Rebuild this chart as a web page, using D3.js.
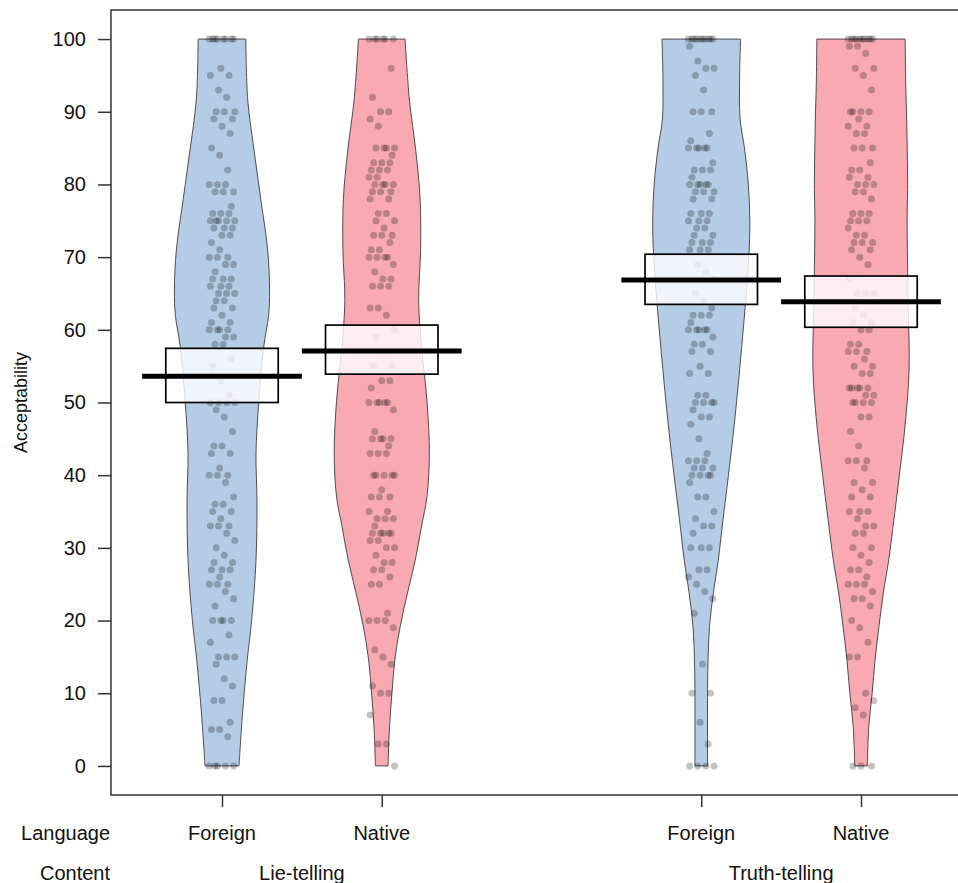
<!DOCTYPE html>
<html>
<head>
<meta charset="utf-8">
<script src="https://cdn.jsdelivr.net/npm/d3@7"></script>
<style>
  body { margin: 0; background: #fff; }
  svg { display: block; }
  text { font-family: "Liberation Sans", Arial, Helvetica, sans-serif; fill: #111; }
</style>
</head>
<body>
<div id="chart"></div>
<script>
// Groups (Language within Content)
const languages = ["Foreign", "Native", "Foreign", "Native"];
const contents = ["Lie-telling", "Truth-telling"];
const positions = [1, 2, 4, 5];
const yTicks = [0, 10, 20, 30, 40, 50, 60, 70, 80, 90, 100];

// Means and 95% CI bounds
const means = [53.6, 57.1, 66.85, 63.85];
const ciLow = [50.0, 53.9, 63.5, 60.35];
const ciHigh = [57.45, 60.65, 70.4, 67.4];

// Bean densities: [value, relative density]
const densLieForeign = [[100, 0.49], [91.6, 0.53], [84.7, 0.66], [77.9, 0.80], [71, 0.94], [65.5, 0.98], [62, 0.96], [57.7, 0.86], [50.3, 0.76], [43, 0.70], [36.6, 0.72], [28.3, 0.70], [20, 0.61], [14.6, 0.52], [7, 0.42], [0, 0.35]];
const densLieNative = [[100, 0.48], [91.6, 0.57], [84.7, 0.70], [78, 0.79], [71, 0.80], [64, 0.76], [57.7, 0.82], [50.3, 0.93], [43, 0.98], [37, 0.93], [33, 0.82], [28.3, 0.69], [23.8, 0.53], [19.2, 0.38], [14.6, 0.27], [10, 0.21], [5.4, 0.16], [0, 0.13]];
const densTruthForeign = [[100, 0.81], [95, 0.79], [89, 0.80], [85, 0.89], [80, 0.97], [75, 1.0], [70, 0.98], [63.6, 0.91], [54.5, 0.79], [47, 0.68], [40, 0.56], [34, 0.45], [28.3, 0.35], [23.8, 0.25], [19.2, 0.17], [14.6, 0.14], [10, 0.13], [0, 0.13]];
const densTruthNative = [[100, 0.91], [94, 0.92], [89, 0.94], [80, 0.96], [75, 0.95], [64, 0.97], [54.5, 0.99], [47, 0.91], [40, 0.79], [34, 0.68], [28.3, 0.57], [23.8, 0.46], [19.2, 0.37], [14.6, 0.29], [10, 0.23], [5.4, 0.16], [0, 0.13]];
const densities = [densLieForeign, densLieNative, densTruthForeign, densTruthNative];

// Individual ratings: [value, how many]
const ptsLieForeign = [[100,8],[96,1],[95,2],[93,1],[92,1],[90,3],[89,2],[88,1],[87,1],[85,1],[84,1],[82,1],[80,3],[79,3],[77,1],[76,3],[75,5],[74,3],[73,2],[72,1],[71,1],[70,3],[69,2],[68,1],[67,3],[66,3],[65,3],[64,2],[63,2],[62,1],[61,2],[60,4],[59,2],[58,2],[56,1],[55,1],[53,1],[51,1],[50,4],[49,1],[48,1],[46,1],[44,2],[43,2],[41,1],[40,3],[39,1],[37,1],[36,2],[35,2],[34,1],[33,3],[32,1],[31,1],[30,1],[29,1],[28,2],[27,3],[26,1],[25,3],[24,1],[23,1],[22,1],[20,4],[18,1],[17,1],[15,3],[14,1],[12,1],[11,1],[9,2],[6,1],[5,2],[4,1],[0,5]];
const ptsLieNative = [[100,6],[96,1],[92,1],[90,2],[89,1],[88,1],[85,4],[84,1],[83,3],[82,3],[81,2],[80,4],[79,3],[78,2],[76,2],[75,2],[74,1],[73,3],[72,1],[71,2],[70,4],[69,1],[68,1],[67,2],[66,3],[63,2],[62,1],[60,1],[59,1],[57,1],[55,2],[53,2],[52,1],[50,5],[49,1],[46,1],[45,4],[44,1],[43,3],[40,5],[38,1],[37,3],[35,2],[34,3],[33,1],[32,5],[31,2],[30,2],[29,1],[28,2],[27,2],[26,1],[25,2],[21,1],[20,3],[19,1],[16,1],[15,1],[14,1],[11,1],[10,2],[7,1],[3,2],[0,1]];
const ptsTruthForeign = [[100,10],[99,1],[97,1],[96,2],[95,1],[93,1],[90,3],[87,1],[86,1],[85,5],[83,1],[82,3],[81,1],[80,5],[79,3],[78,2],[76,3],[75,3],[74,2],[73,2],[72,3],[71,3],[69,1],[68,1],[67,1],[65,1],[64,1],[63,1],[62,3],[61,1],[60,5],[59,1],[58,2],[57,2],[55,1],[54,2],[51,2],[50,4],[49,1],[48,2],[47,1],[45,1],[43,1],[42,3],[41,3],[40,4],[39,1],[37,2],[35,1],[34,1],[33,2],[32,1],[30,3],[27,2],[26,1],[25,1],[24,1],[23,1],[21,1],[14,1],[10,2],[6,1],[3,1],[0,4]];
const ptsTruthNative = [[100,10],[99,2],[98,1],[96,2],[95,1],[93,1],[90,4],[89,1],[88,2],[87,2],[85,3],[83,1],[82,2],[81,2],[80,3],[79,2],[78,1],[76,3],[75,3],[74,1],[73,2],[72,3],[71,2],[70,1],[69,1],[67,1],[65,3],[63,1],[62,1],[61,2],[60,2],[58,2],[57,3],[56,1],[55,2],[54,2],[52,5],[51,2],[50,4],[48,2],[46,1],[44,1],[42,3],[41,1],[39,2],[38,1],[37,2],[35,3],[34,1],[33,2],[32,2],[30,2],[29,1],[28,1],[27,2],[26,1],[25,3],[24,1],[23,2],[22,1],[20,1],[19,1],[17,1],[15,2],[10,1],[9,1],[8,1],[7,1],[0,3]];
const points = [ptsLieForeign, ptsLieNative, ptsTruthForeign, ptsTruthNative];

const fills = ["#b5cce7", "#f8a9b2", "#b5cce7", "#f8a9b2"];

const W = 958, H = 883;

const svg = d3.select("#chart")
  .append("svg")
  .attr("width", W)
  .attr("height", H);

// Scales
const x = d3.scaleLinear().domain([1, 5]).range([222, 861]);
const y = d3.scaleLinear().domain([-4, 104]).range([795, 10]);

const beanMax = 0.304;   // half width of the widest bean, in x units
const boxHalf = 0.352;   // CI box half width
const lineHalf = 0.5;    // mean line half width
const jitterHalf = 0.08;

// Beans
const area = (pos) => d3.area()
  .curve(d3.curveCatmullRom)
  .y(d => y(d[0]))
  .x0(d => x(pos - d[1] * beanMax))
  .x1(d => x(pos + d[1] * beanMax));

svg.append("g")
  .selectAll("path")
  .data(densities)
  .join("path")
  .attr("d", (d, i) => area(positions[i])(d) + "Z")
  .attr("fill", (d, i) => fills[i])
  .attr("stroke", "#3c3c3c")
  .attr("stroke-width", 0.9);

// Points (expanded from value/count pairs, deterministic jitter)
const pointRows = points.flatMap((list, g) => {
  const vals = list.flatMap(([v, n]) => d3.range(n).map(() => v));
  return vals.map((v, i) => ({ g, v, j: (((i * 53) % 23) / 22 - 0.5) * 2 * jitterHalf }));
});

svg.append("g")
  .selectAll("circle")
  .data(pointRows)
  .join("circle")
  .attr("cx", d => x(positions[d.g] + d.j))
  .attr("cy", d => y(d.v))
  .attr("r", 3.5)
  .attr("fill", "#000")
  .attr("fill-opacity", 0.24);

// CI boxes
svg.append("g")
  .selectAll("rect")
  .data(positions)
  .join("rect")
  .attr("x", d => x(d - boxHalf))
  .attr("width", d => x(d + boxHalf) - x(d - boxHalf))
  .attr("y", (d, i) => y(ciHigh[i]))
  .attr("height", (d, i) => y(ciLow[i]) - y(ciHigh[i]))
  .attr("fill", "#fff")
  .attr("fill-opacity", 0.8)
  .attr("stroke", "#000")
  .attr("stroke-width", 1.7);

// Mean lines
svg.append("g")
  .selectAll("line")
  .data(positions)
  .join("line")
  .attr("x1", d => x(d - lineHalf))
  .attr("x2", d => x(d + lineHalf))
  .attr("y1", (d, i) => y(means[i]))
  .attr("y2", (d, i) => y(means[i]))
  .attr("stroke", "#000")
  .attr("stroke-width", 5);

// Frame
svg.append("rect")
  .attr("x", x(0.305))
  .attr("y", y(104))
  .attr("width", x(5.695) - x(0.305))
  .attr("height", y(-4) - y(104))
  .attr("fill", "none")
  .attr("stroke", "#333")
  .attr("stroke-width", 1.5);

// Y axis
const yAxis = svg.append("g")
  .attr("transform", `translate(${x(0.305)},0)`)
  .call(d3.axisLeft(y).tickValues(yTicks).tickSize(13).tickPadding(12));
yAxis.select(".domain").remove();
yAxis.selectAll("line").attr("stroke", "#333").attr("stroke-width", 1.5);
yAxis.selectAll("text").style("font-size", "20px").attr("fill", "#111")
  .style("font-family", "'Liberation Sans', Arial, sans-serif");

// Y axis label
svg.append("text")
  .attr("transform", `translate(27,${y(50)}) rotate(-90)`)
  .attr("text-anchor", "middle")
  .style("font-size", "18px")
  .text("Acceptability");

// X axis ticks
const xAxis = svg.append("g")
  .attr("transform", `translate(0,${y(-4)})`)
  .call(d3.axisBottom(x).tickValues(positions).tickSize(12).tickFormat(""));
xAxis.select(".domain").remove();
xAxis.selectAll("line").attr("stroke", "#333").attr("stroke-width", 1.5);

// Language row
svg.append("text")
  .attr("x", 110).attr("y", 840)
  .attr("text-anchor", "end")
  .style("font-size", "20px")
  .text("Language");

svg.append("g")
  .selectAll("text")
  .data(languages)
  .join("text")
  .attr("x", (d, i) => x(positions[i]))
  .attr("y", 840)
  .attr("text-anchor", "middle")
  .style("font-size", "20px")
  .text(d => d);

// Content row
svg.append("text")
  .attr("x", 110).attr("y", 880)
  .attr("text-anchor", "end")
  .style("font-size", "20px")
  .text("Content");

svg.append("g")
  .selectAll("text")
  .data(contents)
  .join("text")
  .attr("x", (d, i) => x((positions[i * 2] + positions[i * 2 + 1]) / 2))
  .attr("y", 880)
  .attr("text-anchor", "middle")
  .style("font-size", "20px")
  .text(d => d);
</script>
</body>
</html>
